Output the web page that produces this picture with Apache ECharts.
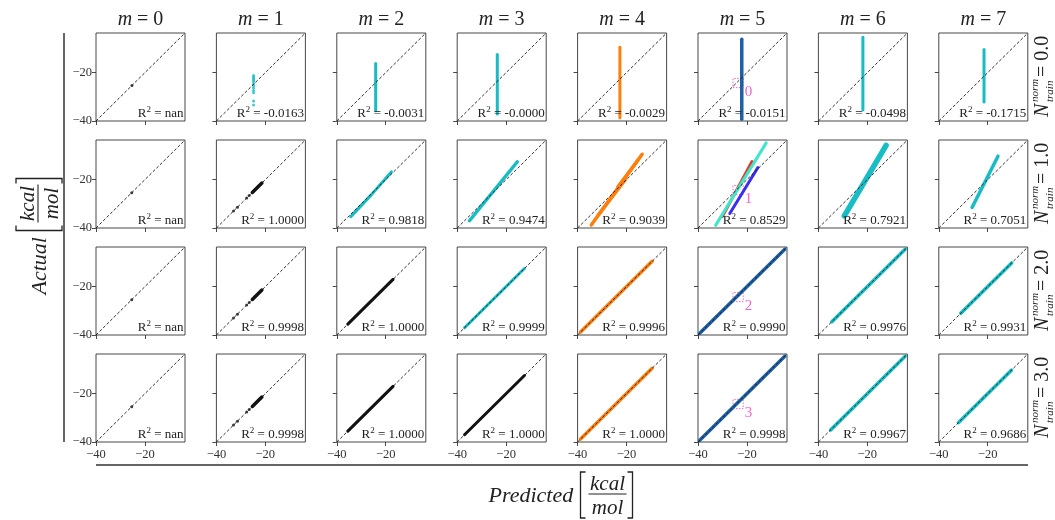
<!DOCTYPE html>
<html>
<head>
<meta charset="utf-8">
<script src="https://cdn.jsdelivr.net/npm/echarts@6/dist/echarts.min.js"></script>
<style>
  html, body { margin: 0; padding: 0; background: #ffffff; }
  #chart { width: 1055px; height: 520px; }
</style>
</head>
<body>
<div id="chart"></div>
<script>
// ---------------- data ----------------
const M_VALUES = [0, 1, 2, 3, 4, 5, 6, 7];
const N_TRAIN = ['0.0', '1.0', '2.0', '3.0'];
const R2_TEXT = [
  ['nan', '-0.0163', '-0.0031', '-0.0000', '-0.0029', '-0.0151', '-0.0498', '-0.1715'],
  ['nan', '1.0000', '0.9818', '0.9474', '0.9039', '0.8529', '0.7921', '0.7051'],
  ['nan', '0.9998', '1.0000', '0.9999', '0.9996', '0.9990', '0.9976', '0.9931'],
  ['nan', '0.9998', '1.0000', '1.0000', '1.0000', '0.9998', '0.9967', '0.9686']
];
const AXIS_RANGE = [-40, -3.6];
const TICK_VALUES = [-40, -20];

// Dense runs of [predicted, actual] pairs: [m, model, points]
const runsN0 = [
  [2, 'c', [[-24.1, -16.2], [-24.1, -35.8]]],
  [3, 'c', [[-23.6, -12.5], [-23.6, -37.1]]],
  [4, 'o', [[-22.7, -9.5], [-22.7, -38.7]]],
  [5, 'b', [[-22.1, -6.2], [-22.1, -39.3]]],
  [6, 'c', [[-21.8, -5.4], [-21.8, -35.4]]],
  [7, 'c', [[-21.5, -10.4], [-21.5, -32.1]]]
];
const runsN1 = [
  [1, 'k', [[-25.3, -25.3], [-21.4, -21.4]]],
  [2, 'c', [[-34.3, -35.3], [-26.0, -26.4], [-17.7, -16.8]]],
  [3, 'c', [[-35.0, -37.0], [-15.4, -12.6]]],
  [4, 'o', [[-34.4, -38.8], [-13.6, -9.5]]],
  [4, 'o', [[-31.5, -34.6], [-20.5, -20.0]]],
  [4, 'o', [[-23.5, -23.0], [-15.2, -11.8]]],
  [5, 'v', [[-27.0, -34.0], [-15.5, -15.0]]],
  [5, 'r', [[-30.0, -35.2], [-17.9, -12.5]]],
  [5, 't', [[-32.8, -38.9], [-12.1, -4.8]]],
  [6, 'c', [[-29.4, -35.0], [-12.3, -5.8]]],
  [7, 'c', [[-26.4, -31.5], [-15.8, -10.3]]]
];
const runsN2 = [
  [1, 'k', [[-25.3, -25.3], [-21.4, -21.4]]],
  [2, 'k', [[-35.5, -35.5], [-17.0, -17.0]]],
  [3, 'c', [[-37.0, -37.0], [-12.5, -12.5]]],
  [4, 'o', [[-38.8, -38.8], [-9.5, -9.5]]],
  [5, 'b', [[-39.3, -39.3], [-4.5, -4.5]]],
  [6, 'c', [[-34.5, -34.5], [-4.5, -4.5]]],
  [7, 'c', [[-31.0, -31.0], [-10.2, -10.2]]]
];
const runsN3 = [
  [1, 'k', [[-25.3, -25.3], [-21.4, -21.4]]],
  [2, 'k', [[-35.5, -35.5], [-17.0, -17.0]]],
  [3, 'k', [[-37.0, -37.0], [-12.5, -12.5]]],
  [4, 'o', [[-38.8, -38.8], [-9.5, -9.5]]],
  [5, 'b', [[-39.3, -39.3], [-4.5, -4.5]]],
  [6, 'c', [[-35.0, -35.0], [-4.5, -4.5]]],
  [7, 'c', [[-32.0, -32.0], [-10.3, -10.3]]]
];
// Sparse [predicted, actual] samples: [m, model, points]
const dotsN0 = [
  [0, 'k', [[-25.3, -25.3]]],
  [1, 'c', [[-24.8, -21.2], [-24.8, -21.8], [-24.8, -22.4], [-24.8, -23.0], [-24.8, -23.7],
            [-24.8, -24.6], [-24.8, -25.4], [-24.8, -26.3], [-24.8, -27.4], [-24.8, -28.3],
            [-24.8, -31.7], [-24.8, -33.4]]]
];
const dotsN1 = [
  [0, 'k', [[-25.4, -25.4]]],
  [1, 'k', [[-33.0, -33.0], [-31.4, -31.4], [-27.6, -27.6], [-26.6, -26.6]]]
];
const dotsN2 = [
  [0, 'k', [[-25.4, -25.4]]],
  [1, 'k', [[-33.0, -33.0], [-31.4, -31.4], [-27.6, -27.6], [-26.6, -26.6]]]
];
const dotsN3 = [
  [0, 'k', [[-25.4, -25.4]]],
  [1, 'k', [[-33.0, -33.0], [-31.4, -31.4], [-27.6, -27.6], [-26.6, -26.6]]]
];
// Highlighted region in the m = 5 column: [corner1, corner2]
const REGION_BOX = [[-25.7, -26.2], [-21.5, -22.4]];
const REGION_IDS = ['0', '1', '2', '3'];

// ---------------- styles & layout ----------------
const MODEL_COLOR = {
  k: '#111111', c: '#17bcc4', o: '#ff7f0e', b: '#1f5fa6',
  t: '#3fe6c9', r: '#e8352a', v: '#3b2cf0'
};
const RUN_WIDTH = [
  [3, 3, 3, 3, 3, 3.5, 3, 3],
  [3, 3.5, 3, 3.5, 3.5, 3, 5.5, 3.5],
  [3, 3.5, 3, 3, 3.5, 3.5, 3.5, 3.5],
  [3, 3.5, 3, 3, 3.5, 3.5, 3.5, 3.5]
];
const SERIF = '"Liberation Serif", "DejaVu Serif", serif';
const INK = '#222';
const LEFT0 = 96, COL_STEP = 120.4, TOP0 = 33, ROW_STEP = 107, GW = 89, GH = 88;

const runsByRow = [runsN0, runsN1, runsN2, runsN3];
const dotsByRow = [dotsN0, dotsN1, dotsN2, dotsN3];

const grids = [], xAxes = [], yAxes = [], series = [], graphics = [];
const minusFmt = v => String(v).replace('-', '\u2212');

N_TRAIN.forEach((nLabel, r) => {
  M_VALUES.forEach((m, c) => {
    const idx = r * M_VALUES.length + c;
    const left = LEFT0 + c * COL_STEP;
    const top = TOP0 + r * ROW_STEP;
    grids.push({
      left, top, width: GW, height: GH, show: true,
      borderColor: '#333', borderWidth: 0.9, backgroundColor: 'transparent',
      containLabel: false, outerBoundsMode: 'none'
    });
    const axisCommon = {
      gridIndex: idx, type: 'value', min: AXIS_RANGE[0], max: AXIS_RANGE[1], interval: 20,
      axisLine: { show: false }, splitLine: { show: false },
      axisTick: { show: true, customValues: TICK_VALUES, length: 4, lineStyle: { color: '#333', width: 0.9 } }
    };
    xAxes.push(Object.assign({}, axisCommon, {
      axisLabel: { show: r === N_TRAIN.length - 1, customValues: TICK_VALUES, formatter: minusFmt,
                   fontFamily: SERIF, fontSize: 12.5, color: '#333', margin: 6 }
    }));
    yAxes.push(Object.assign({}, axisCommon, {
      axisLabel: { show: c === 0, customValues: TICK_VALUES, formatter: minusFmt,
                   fontFamily: SERIF, fontSize: 12.5, color: '#333', margin: 4 }
    }));

    // parity line y = x
    const diag = {
      type: 'line', xAxisIndex: idx, yAxisIndex: idx, silent: true, z: 5,
      data: [[AXIS_RANGE[0], AXIS_RANGE[0]], [AXIS_RANGE[1], AXIS_RANGE[1]]],
      symbol: 'none', lineStyle: { color: '#1a1a1a', width: 0.9, type: [3, 2] }
    };
    if (m === 5) {
      diag.markArea = {
        silent: true,
        itemStyle: { color: 'rgba(0,0,0,0)', borderColor: '#ee66cc', borderWidth: 1, borderType: [1.5, 1.5] },
        label: { show: true, position: 'right', distance: 1, offset: [0, 9], color: '#ee66cc',
                 fontFamily: SERIF, fontSize: 15, formatter: REGION_IDS[r] },
        data: [[{ coord: REGION_BOX[0] }, { coord: REGION_BOX[1] }]]
      };
    }
    series.push(diag);

    runsByRow[r].filter(t => t[0] === m).forEach(t => {
      series.push({
        type: 'line', xAxisIndex: idx, yAxisIndex: idx, silent: true, z: 3,
        data: t[2], symbol: 'none',
        lineStyle: { color: MODEL_COLOR[t[1]], width: RUN_WIDTH[r][c], cap: 'round', join: 'round' }
      });
    });
    dotsByRow[r].filter(t => t[0] === m).forEach(t => {
      series.push({
        type: 'scatter', xAxisIndex: idx, yAxisIndex: idx, silent: true, z: 3,
        data: t[2], symbol: 'circle', symbolSize: 3,
        itemStyle: { color: MODEL_COLOR[t[1]] }
      });
    });

    // R² annotation
    graphics.push({
      type: 'text', x: left + GW - 1.5, y: top + GH - 1, silent: true, z: 10,
      style: {
        text: '{a|R}{s|2}{a| = ' + R2_TEXT[r][c] + '}',
        align: 'right', verticalAlign: 'bottom',
        rich: {
          a: { fontFamily: SERIF, fontSize: 13, fill: INK, verticalAlign: 'bottom', lineHeight: 15 },
          s: { fontFamily: SERIF, fontSize: 9, fill: INK, verticalAlign: 'top', lineHeight: 15 }
        }
      }
    });
  });
});

// column titles: m = k
M_VALUES.forEach((m, c) => {
  graphics.push({
    type: 'text', x: LEFT0 + c * COL_STEP + GW / 2, y: 20, silent: true,
    style: {
      text: '{i|m}{n| = ' + m + '}', align: 'center', verticalAlign: 'middle',
      rich: {
        i: { fontFamily: SERIF, fontStyle: 'italic', fontSize: 20, fill: INK },
        n: { fontFamily: SERIF, fontSize: 20, fill: INK }
      }
    }
  });
});

// row labels: N_train^norm = value
N_TRAIN.forEach((n, r) => {
  graphics.push({
    type: 'group', x: 1043, y: TOP0 + r * ROW_STEP + GH / 2, rotation: Math.PI / 2, silent: true,
    children: [
      { type: 'text', x: -40, y: 0, style: { text: 'N', font: 'italic 20px ' + SERIF, fill: INK, align: 'left', verticalAlign: 'middle' } },
      { type: 'text', x: -25, y: -8, style: { text: 'norm', font: 'italic 11px ' + SERIF, fill: INK, align: 'left', verticalAlign: 'middle' } },
      { type: 'text', x: -25, y: 7, style: { text: 'train', font: 'italic 11px ' + SERIF, fill: INK, align: 'left', verticalAlign: 'middle' } },
      { type: 'text', x: -5, y: 0, style: { text: ' = ' + n, font: '20px ' + SERIF, fill: INK, align: 'left', verticalAlign: 'middle' } }
    ]
  });
});

// axis caption with a bracketed kcal/mol fraction, in local coordinates centred on (0,0)
function unitCaption(word, wordWidth) {
  const L = -(wordWidth + 57) / 2;
  const bl = L + wordWidth + 6;
  const br = bl + 52;
  const fc = bl + 27;
  const stroke = { stroke: INK, lineWidth: 1.3, fill: null };
  return [
    { type: 'text', x: L, y: 1, style: { text: word, font: 'italic 22px ' + SERIF, fill: INK, align: 'left', verticalAlign: 'middle' } },
    { type: 'polyline', shape: { points: [[bl + 5, -23], [bl, -23], [bl, 23], [bl + 5, 23]] }, style: stroke },
    { type: 'text', x: fc, y: -11, style: { text: 'kcal', font: 'italic 21px ' + SERIF, fill: INK, align: 'center', verticalAlign: 'middle' } },
    { type: 'line', shape: { x1: bl + 8, y1: -1, x2: br - 6, y2: -1 }, style: { stroke: INK, lineWidth: 1.1 } },
    { type: 'text', x: fc, y: 13, style: { text: 'mol', font: 'italic 21px ' + SERIF, fill: INK, align: 'center', verticalAlign: 'middle' } },
    { type: 'polyline', shape: { points: [[br - 5, -23], [br, -23], [br, 23], [br - 5, 23]] }, style: stroke }
  ];
}
graphics.push({ type: 'group', x: 560, y: 495, silent: true, children: unitCaption('Predicted', 86) });
graphics.push({ type: 'group', x: 39, y: 237, rotation: Math.PI / 2, silent: true, children: unitCaption('Actual', 58) });

// outer frame lines
graphics.push({ type: 'line', silent: true, shape: { x1: 64, y1: 33, x2: 64, y2: 442 }, style: { stroke: '#333', lineWidth: 1.5 } });
graphics.push({ type: 'line', silent: true, shape: { x1: 96, y1: 465, x2: 1028, y2: 465 }, style: { stroke: '#333', lineWidth: 1.5 } });

const chart = echarts.init(document.getElementById('chart'), null, { renderer: 'canvas' });
chart.setOption({
  backgroundColor: '#ffffff',
  animation: false,
  grid: grids,
  xAxis: xAxes,
  yAxis: yAxes,
  series: series,
  graphic: graphics
});
</script>
</body>
</html>
